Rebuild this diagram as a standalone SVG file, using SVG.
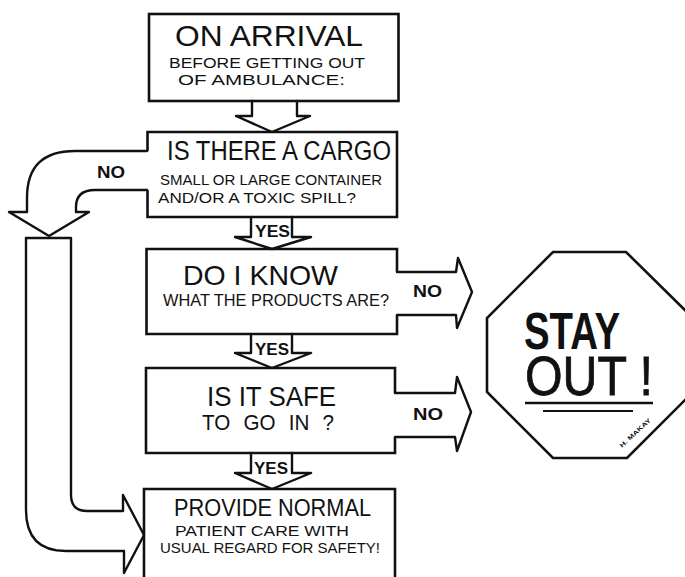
<svg xmlns="http://www.w3.org/2000/svg" width="685" height="577" viewBox="0 0 685 577">
<style>
.bx{fill:none;stroke:#111;stroke-width:2.6;stroke-linejoin:miter}
.ar{fill:#fff;stroke:#111;stroke-width:2.4;stroke-linejoin:round;stroke-linecap:round}
text{font-family:"Liberation Sans",Arial,sans-serif;fill:#111}
.h{font-size:28px}
.s{font-size:16px}
.l{font-size:16px;font-weight:bold}
</style>
<rect width="685" height="577" fill="#fff"/>
<g id="connectors">
<path class="ar" d="M252,101 V116 H236 L272,132 L310,116 H297 V101"/>
<path class="ar" d="M251,217 V237 H235 L272,249 L311,237 H292 V217"/>
<path class="ar" d="M251,334 V353 H235 L272,368 L311,353 H292 V334"/>
<path class="ar" d="M251,453 V473 H235 L272,489 L311,473 H292 V453"/>
<path class="ar" d="M397,272 H456 L458,258 L472,292 L457,328 L456,315 H397"/>
<path class="ar" d="M395,393 H455 L457,377 L471,412 L457,451 L455,437 H395"/>
<path class="ar" d="M147,151 H75 Q27,151 27,198 V212 H9 L49,236 L89,212 H76 V207 Q76,190 95,190 H147"/>
<path class="ar" d="M26,238 H71 V495 Q71,511 87,511 H123 V495 L144,535 L124,573 V551 H66 Q26,551 26,510 Z"/>
<text class="l" x="97" y="178" textLength="28" lengthAdjust="spacingAndGlyphs">NO</text>
<text class="l" x="255" y="237" textLength="35" lengthAdjust="spacingAndGlyphs">YES</text>
<text class="l" x="255" y="355" textLength="34" lengthAdjust="spacingAndGlyphs">YES</text>
<text class="l" x="254" y="474" textLength="34" lengthAdjust="spacingAndGlyphs">YES</text>
<text class="l" x="413" y="297" textLength="29" lengthAdjust="spacingAndGlyphs">NO</text>
<text class="l" x="413" y="420" textLength="30" lengthAdjust="spacingAndGlyphs">NO</text>
</g>
<g id="n1">
<rect class="bx" x="149" y="14" width="249.5" height="87"/>
<text x="175" y="46" font-size="30" textLength="188" lengthAdjust="spacingAndGlyphs">ON ARRIVAL</text>
<text x="169" y="68" font-size="15" textLength="196" lengthAdjust="spacingAndGlyphs">BEFORE GETTING OUT</text>
<text x="178" y="85" font-size="15" textLength="167" lengthAdjust="spacingAndGlyphs">OF AMBULANCE:</text>
</g>
<g id="n2">
<path class="bx" d="M147.5,151 V132 H397 V217 H147.5 V190"/>
<text x="167" y="160" font-size="27" textLength="224" lengthAdjust="spacingAndGlyphs">IS THERE A CARGO</text>
<text x="160" y="185" font-size="15" textLength="222" lengthAdjust="spacingAndGlyphs">SMALL OR LARGE CONTAINER</text>
<text x="158" y="203" font-size="15" textLength="198" lengthAdjust="spacingAndGlyphs">AND/OR A TOXIC SPILL?</text>
</g>
<g id="n3">
<path class="bx" d="M397,272 V249 H146.5 V334 H397 V315"/>
<text class="h" x="183" y="285" textLength="155" lengthAdjust="spacingAndGlyphs">DO I KNOW</text>
<text class="s" x="163" y="306" textLength="226" lengthAdjust="spacingAndGlyphs">WHAT THE PRODUCTS ARE?</text>
</g>
<g id="n4">
<path class="bx" d="M395,393 V368 H146 V453 H395 V437"/>
<text class="h" x="207" y="406" textLength="129" lengthAdjust="spacingAndGlyphs">IS IT SAFE</text>
<text x="202" y="430" font-size="22" word-spacing="8" textLength="132" lengthAdjust="spacingAndGlyphs">TO GO IN ?</text>
</g>
<g id="n5">
<path class="bx" d="M144,600 V489 H395 V600"/>
<text x="174" y="516" font-size="24" textLength="197" lengthAdjust="spacingAndGlyphs">PROVIDE NORMAL</text>
<text x="175" y="536" font-size="15" textLength="174" lengthAdjust="spacingAndGlyphs">PATIENT CARE WITH</text>
<text x="160" y="553" font-size="15" textLength="220" lengthAdjust="spacingAndGlyphs">USUAL REGARD FOR SAFETY!</text>
</g>
<g id="stop">
<polygon class="bx" points="553,252 626,252 693,318 693,392 627,458 553,458 487,392 487,318"/>
<text x="524" y="349" font-size="52" font-weight="bold" textLength="96" lengthAdjust="spacingAndGlyphs">STAY</text>
<text x="525" y="395" font-size="55" textLength="128" lengthAdjust="spacingAndGlyphs" stroke="#111" stroke-width="0.8">OUT !</text>
<line x1="525" y1="403" x2="653" y2="403" stroke="#111" stroke-width="2.6"/>
<line x1="543" y1="411" x2="633" y2="411" stroke="#111" stroke-width="2"/>
<text x="0" y="0" font-size="6" font-weight="bold" textLength="40" lengthAdjust="spacingAndGlyphs" transform="translate(622,448) rotate(-43)">H. MAKAY</text>
</g>
</svg>
